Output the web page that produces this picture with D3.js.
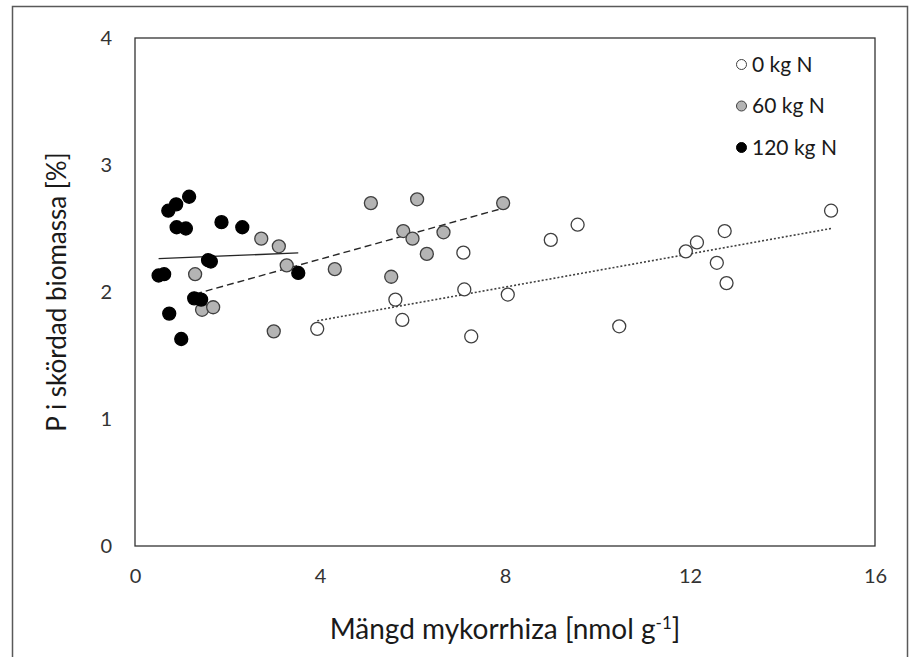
<!DOCTYPE html>
<html>
<head>
<meta charset="utf-8">
<script src="https://cdn.jsdelivr.net/npm/d3@7"></script>
<style>
  body { margin: 0; background: #fff; }
  text { font-family: Lato, "Open Sans", sans-serif; fill: #1a1a1a; }
</style>
</head>
<body>
<div id="chart"></div>
<script>
var width = 914,
    height = 657;

// series values
var x0kg = [3.94, 5.63, 5.78, 7.10, 7.12, 7.27, 8.06, 8.99, 9.57, 10.47, 11.91, 12.15, 12.75, 12.58, 12.79, 15.05];
var y0kg = [1.71, 1.94, 1.78, 2.31, 2.02, 1.65, 1.98, 2.41, 2.53, 1.73, 2.32, 2.39, 2.48, 2.23, 2.07, 2.64];

var x60kg = [2.73, 3.11, 3.28, 1.30, 4.32, 1.45, 1.69, 3.00, 5.10, 6.10, 7.96, 5.80, 6.00, 6.67, 6.31, 5.54];
var y60kg = [2.42, 2.36, 2.21, 2.14, 2.18, 1.86, 1.88, 1.69, 2.70, 2.73, 2.70, 2.48, 2.42, 2.47, 2.30, 2.12];

var x120kg = [0.51, 0.63, 0.72, 0.89, 1.17, 0.90, 1.10, 1.87, 2.32, 1.58, 1.64, 1.28, 1.43, 0.74, 1.00, 3.53];
var y120kg = [2.13, 2.14, 2.64, 2.69, 2.75, 2.51, 2.50, 2.55, 2.51, 2.25, 2.24, 1.95, 1.94, 1.83, 1.63, 2.15];

// trendline end points [x0, y0, x1, y1]
var trend0kg = [3.94, 1.773, 15.05, 2.50];
var trend60kg = [1.30, 1.984, 7.96, 2.66];
var trend120kg = [0.51, 2.263, 3.53, 2.308];

var seriesNames = ["0 kg N", "60 kg N", "120 kg N"];
var xTicks = [0, 4, 8, 12, 16];
var yTicks = [0, 1, 2, 3, 4];

var colors = {
  white: "#ffffff",
  gray: "#b4b4b4",
  black: "#000000",
  edge: "#3f3f3f"
};

var series = [
  { name: seriesNames[0], xs: x0kg, ys: y0kg, trend: trend0kg, fill: colors.white, dash: "2,2" },
  { name: seriesNames[1], xs: x60kg, ys: y60kg, trend: trend60kg, fill: colors.gray, dash: "7,4" },
  { name: seriesNames[2], xs: x120kg, ys: y120kg, trend: trend120kg, fill: colors.black, dash: null }
];

var margin = { left: 135, top: 38, right: 39, bottom: 111 };

var svg = d3.select("#chart").append("svg")
    .attr("width", width)
    .attr("height", height);

// outer frame of the figure
svg.append("rect")
    .attr("x", 12.5).attr("y", 6.5)
    .attr("width", 895).attr("height", 700)
    .style("fill", "none")
    .style("stroke", "#595959")
    .style("stroke-width", 1.5);

var x = d3.scaleLinear().domain([0, 16]).range([margin.left, width - margin.right]);
var y = d3.scaleLinear().domain([0, 4]).range([height - margin.bottom, margin.top]);

// plot box
svg.append("rect")
    .attr("x", x(0)).attr("y", y(4))
    .attr("width", x(16) - x(0)).attr("height", y(0) - y(4))
    .style("fill", "none")
    .style("stroke", "#333")
    .style("stroke-width", 1.3);

var xAxis = svg.append("g")
    .attr("transform", "translate(0," + y(0) + ")")
    .call(d3.axisBottom(x).tickValues(xTicks).tickFormat(d3.format("d")).tickSize(0).tickPadding(23));
xAxis.select(".domain").remove();
xAxis.selectAll("text").style("font-size", "20px").style("font-family", "Lato, sans-serif").style("fill", "#333");

var yAxis = svg.append("g")
    .attr("transform", "translate(" + x(0) + ",0)")
    .call(d3.axisLeft(y).tickValues(yTicks).tickFormat(d3.format("d")).tickSize(0).tickPadding(23));
yAxis.select(".domain").remove();
yAxis.selectAll("text").style("font-size", "20px").style("font-family", "Lato, sans-serif").style("fill", "#333");

// trendlines
series.forEach(function(s){
  svg.append("line")
      .attr("x1", x(s.trend[0])).attr("y1", y(s.trend[1]))
      .attr("x2", x(s.trend[2])).attr("y2", y(s.trend[3]))
      .style("stroke", s.dash === "2,2" ? "#404040" : "#262626")
      .style("stroke-width", s.dash === "2,2" ? 1.6 : 1.4)
      .style("stroke-dasharray", s.dash);
});

// points
series.forEach(function(s){
  var pts = s.xs.map(function(v, i){ return { x: v, y: s.ys[i] }; });
  svg.append("g").selectAll("circle")
      .data(pts)
    .enter().append("circle")
      .attr("cx", function(d){ return x(d.x); })
      .attr("cy", function(d){ return y(d.y); })
      .attr("r", 6.5)
      .style("fill", s.fill)
      .style("stroke", s.fill === colors.black ? colors.black : colors.edge)
      .style("stroke-width", 1.3);
});

// legend
var legend = svg.append("g");
series.forEach(function(s, i){
  var ly = 64.5 + i * 41.5;
  legend.append("circle")
      .attr("cx", 741.5).attr("cy", ly)
      .attr("r", 5)
      .style("fill", s.fill)
      .style("stroke", s.fill === colors.black ? colors.black : colors.edge)
      .style("stroke-width", 1);
  legend.append("text")
      .attr("x", 752).attr("y", ly)
      .attr("dy", "0.35em")
      .style("font-size", "21px")
      .text(s.name);
});

// axis titles
svg.append("text")
    .attr("x", (x(0) + x(16)) / 2)
    .attr("y", 639)
    .attr("text-anchor", "middle")
    .style("font-size", "28px")
    .html("Mängd mykorrhiza [nmol g<tspan dy='-10' font-size='17px'>-1</tspan><tspan dy='10'>]</tspan>");

svg.append("text")
    .attr("transform", "translate(66," + (y(0) + y(4)) / 2 + ") rotate(-90)")
    .attr("text-anchor", "middle")
    .style("font-size", "26px")
    .text("P i skördad biomassa [%]");
</script>
</body>
</html>
